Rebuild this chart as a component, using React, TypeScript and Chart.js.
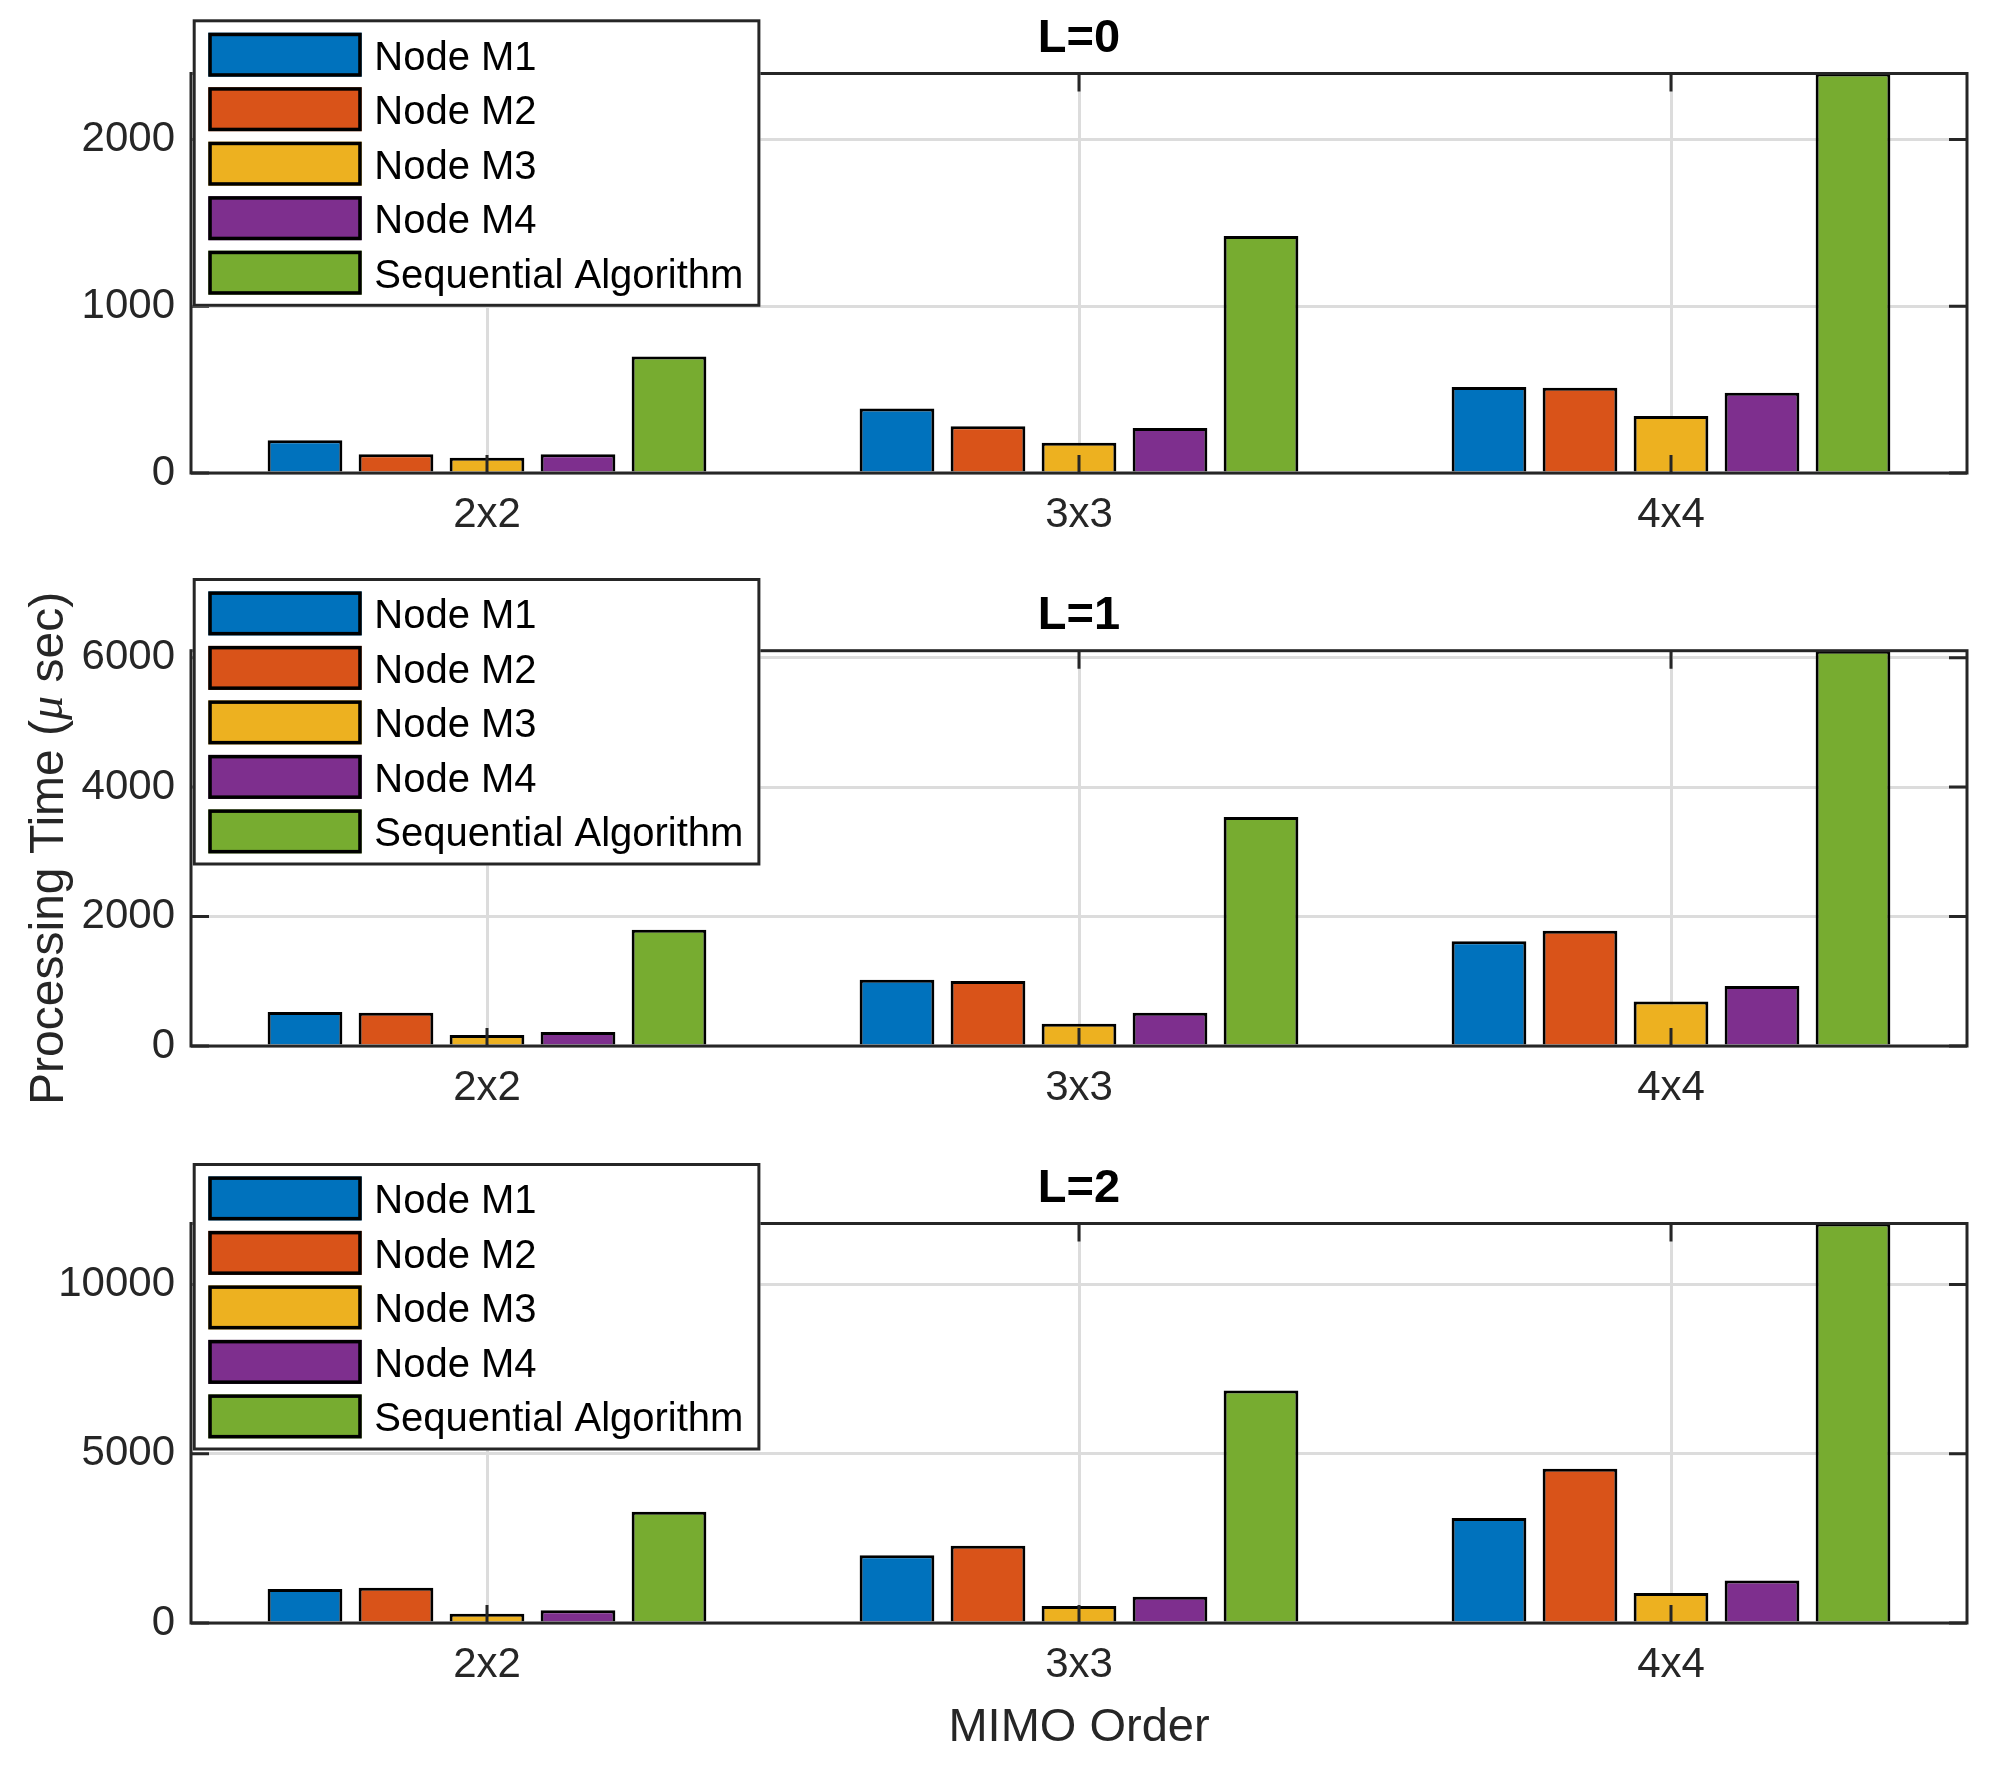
import React, { useEffect, useRef } from 'react';
import { Chart, registerables } from 'chart.js';

Chart.register(...registerables);

// ---------------- data ----------------
const categories = ['2x2', '3x3', '4x4'];
const seriesLabels = ['Node M1', 'Node M2', 'Node M3', 'Node M4', 'Sequential Algorithm'];

const panelTitles = ['L=0', 'L=1', 'L=2'];
const yTicksL0 = [0, 1000, 2000];
const yTicksL1 = [0, 2000, 4000, 6000];
const yTicksL2 = [0, 5000, 10000];
const panelYTicks = [yTicksL0, yTicksL1, yTicksL2];

// L = 0
const l0NodeM1 = [197, 387, 516];
const l0NodeM2 = [112, 281, 511];
const l0NodeM3 = [92, 181, 341];
const l0NodeM4 = [112, 270, 481];
const l0Sequential = [699, 1421, 2395];

// L = 1
const l1NodeM1 = [525, 1023, 1620];
const l1NodeM2 = [514, 1005, 1780];
const l1NodeM3 = [170, 343, 686];
const l1NodeM4 = [218, 514, 927];
const l1Sequential = [1797, 3536, 6107];

// L = 2
const l2NodeM1 = [1008, 2000, 3100];
const l2NodeM2 = [1043, 2281, 4560];
const l2NodeM3 = [272, 505, 890];
const l2NodeM4 = [375, 774, 1253];
const l2Sequential = [3286, 6873, 11805];

const panelSeries = [
  [l0NodeM1, l0NodeM2, l0NodeM3, l0NodeM4, l0Sequential],
  [l1NodeM1, l1NodeM2, l1NodeM3, l1NodeM4, l1Sequential],
  [l2NodeM1, l2NodeM2, l2NodeM3, l2NodeM4, l2Sequential],
];

const yAxisLabelParts = ['Processing Time (', 'μ', ' sec)'];
const xAxisLabel = 'MIMO Order';

// ---------------- styles / layout ----------------
const seriesColors = ['#0072BD', '#D95319', '#EDB120', '#7E2F8E', '#77AC30'];
const AXIS_COLOR = '#262626';
const GRID_COLOR = '#dcdcdc';
const FONT = '"Liberation Sans", Arial, Helvetica, sans-serif';
const W = 2005;
const TICK_LEN = 18;

const panels = [
  { top: 0, height: 575, chartTop: 73.5, chartBottom: 473, legendTop: 19.3 },
  { top: 575, height: 575, chartTop: 75.7, chartBottom: 471, legendTop: 3 },
  { top: 1150, height: 620, chartTop: 73.5, chartBottom: 473, legendTop: 13 },
];
const CHART_LEFT = 191;
const CHART_RIGHT = 1967;

function makeDecor(panelIndex: number) {
  const p = panels[panelIndex];
  return {
    id: 'decor' + panelIndex,
    afterDatasetsDraw(chart: any) {
      const { ctx, chartArea: a, scales } = chart;
      ctx.save();
      // inward tick marks
      ctx.strokeStyle = AXIS_COLOR;
      ctx.lineWidth = 3;
      ctx.beginPath();
      scales.y.ticks.forEach((t: any) => {
        const y = scales.y.getPixelForValue(t.value);
        ctx.moveTo(a.left, y);
        ctx.lineTo(a.left + TICK_LEN, y);
        ctx.moveTo(a.right, y);
        ctx.lineTo(a.right - TICK_LEN, y);
      });
      categories.forEach((_c, i) => {
        const x = scales.x.getPixelForValue(i);
        ctx.moveTo(x, a.bottom);
        ctx.lineTo(x, a.bottom - TICK_LEN);
        ctx.moveTo(x, a.top);
        ctx.lineTo(x, a.top + TICK_LEN);
      });
      ctx.stroke();
      // axes box
      ctx.strokeRect(a.left, a.top, a.right - a.left, a.bottom - a.top);

      // legend
      const lx = 192.7, lw = 567.7, lh = 287.5, ly = p.legendTop;
      ctx.fillStyle = '#ffffff';
      ctx.fillRect(lx, ly, lw, lh);
      ctx.lineWidth = 3;
      ctx.strokeStyle = AXIS_COLOR;
      ctx.strokeRect(lx + 1.5, ly + 1.5, lw - 3, lh - 3);
      ctx.font = '40px ' + FONT;
      ctx.textBaseline = 'middle';
      ctx.textAlign = 'left';
      seriesLabels.forEach((label, i) => {
        const sy = ly + 13.4 + 54.5 * i;
        const sx = 208.3, sw = 153.4, sh = 44;
        ctx.fillStyle = seriesColors[i];
        ctx.fillRect(sx, sy, sw, sh);
        ctx.lineWidth = 3.5;
        ctx.strokeStyle = '#000000';
        ctx.strokeRect(sx + 1.75, sy + 1.75, sw - 3.5, sh - 3.5);
        ctx.fillStyle = '#000000';
        ctx.fillText(label, 374.3, sy + sh / 2 + 4);
      });

      // title
      ctx.font = 'bold 47px ' + FONT;
      ctx.textAlign = 'center';
      ctx.textBaseline = 'alphabetic';
      ctx.fillStyle = '#000000';
      ctx.fillText(panelTitles[panelIndex], (a.left + a.right) / 2, a.top - 21.8);

      // y axis label (middle panel)
      if (panelIndex === 1) {
        ctx.save();
        ctx.translate(49.5, (a.top + a.bottom) / 2);
        ctx.rotate(-Math.PI / 2);
        const fonts = ['48px ' + FONT, 'italic 48px "Liberation Serif", serif', '48px ' + FONT];
        let total = 0;
        const widths = yAxisLabelParts.map((t, i) => {
          ctx.font = fonts[i];
          const w = ctx.measureText(t).width;
          total += w;
          return w;
        });
        let x = -total / 2;
        ctx.fillStyle = AXIS_COLOR;
        ctx.textAlign = 'left';
        ctx.textBaseline = 'middle';
        yAxisLabelParts.forEach((t, i) => {
          ctx.font = fonts[i];
          ctx.fillText(t, x, 0);
          x += widths[i];
        });
        ctx.restore();
      }
      // x axis label (bottom panel)
      if (panelIndex === 2) {
        ctx.font = '47px ' + FONT;
        ctx.fillStyle = AXIS_COLOR;
        ctx.textAlign = 'center';
        ctx.textBaseline = 'alphabetic';
        ctx.fillText(xAxisLabel, (a.left + a.right) / 2, 590.7);
      }
      ctx.restore();
    },
  };
}

function Panel({ index }: { index: number }) {
  const ref = useRef<HTMLCanvasElement | null>(null);
  useEffect(() => {
    const p = panels[index];
    const series = panelSeries[index];
    const yTicks = panelYTicks[index];
    const yMax = Math.max(...series.flat());
    const chart = new Chart(ref.current as HTMLCanvasElement, {
      type: 'bar',
      data: {
        labels: categories,
        datasets: series.map((vals, i) => ({
          label: seriesLabels[i],
          data: vals,
          backgroundColor: seriesColors[i],
          borderColor: '#000000',
          borderWidth: 3,
          categoryPercentage: 0.7686,
          barPercentage: 0.821,
        })),
      },
      options: {
        animation: false,
        responsive: false,
        devicePixelRatio: 1,
        layout: {
          padding: { top: p.chartTop, left: 0, right: W - CHART_RIGHT, bottom: 0 },
        },
        plugins: {
          legend: { display: false },
          title: { display: false },
          tooltip: { enabled: false },
        },
        scales: {
          x: {
            offset: true,
            grid: { offset: false, color: GRID_COLOR, lineWidth: 3, drawTicks: false },
            border: { display: false },
            ticks: {
              color: AXIS_COLOR,
              font: { family: FONT, size: 42 },
              padding: 17,
              maxRotation: 0,
              autoSkip: false,
            },
            afterFit: (s: any) => {
              s.height = p.height - p.chartBottom;
            },
          },
          y: {
            min: 0,
            max: yMax,
            grid: { color: GRID_COLOR, lineWidth: 3, drawTicks: false },
            border: { display: false },
            ticks: {
              color: AXIS_COLOR,
              font: { family: FONT, size: 42 },
              padding: 16,
              autoSkip: false,
              callback: (v: any) => String(v),
            },
            afterBuildTicks: (s: any) => {
              s.ticks = yTicks.map((v) => ({ value: v }));
            },
            afterFit: (s: any) => {
              s.width = CHART_LEFT;
            },
          },
        },
      },
      plugins: [makeDecor(index)],
    } as any);
    return () => chart.destroy();
  }, [index]);
  const p = panels[index];
  return (
    <canvas
      ref={ref}
      width={W}
      height={p.height}
      style={{ position: 'absolute', left: 0, top: p.top, width: W, height: p.height, display: 'block' }}
    />
  );
}

export default function App() {
  return (
    <div
      style={{
        position: 'absolute',
        left: 0,
        top: 0,
        width: W,
        height: 1770,
        overflow: 'hidden',
        background: '#ffffff',
      }}
    >
      {panels.map((_p, i) => (
        <Panel key={i} index={i} />
      ))}
    </div>
  );
}
